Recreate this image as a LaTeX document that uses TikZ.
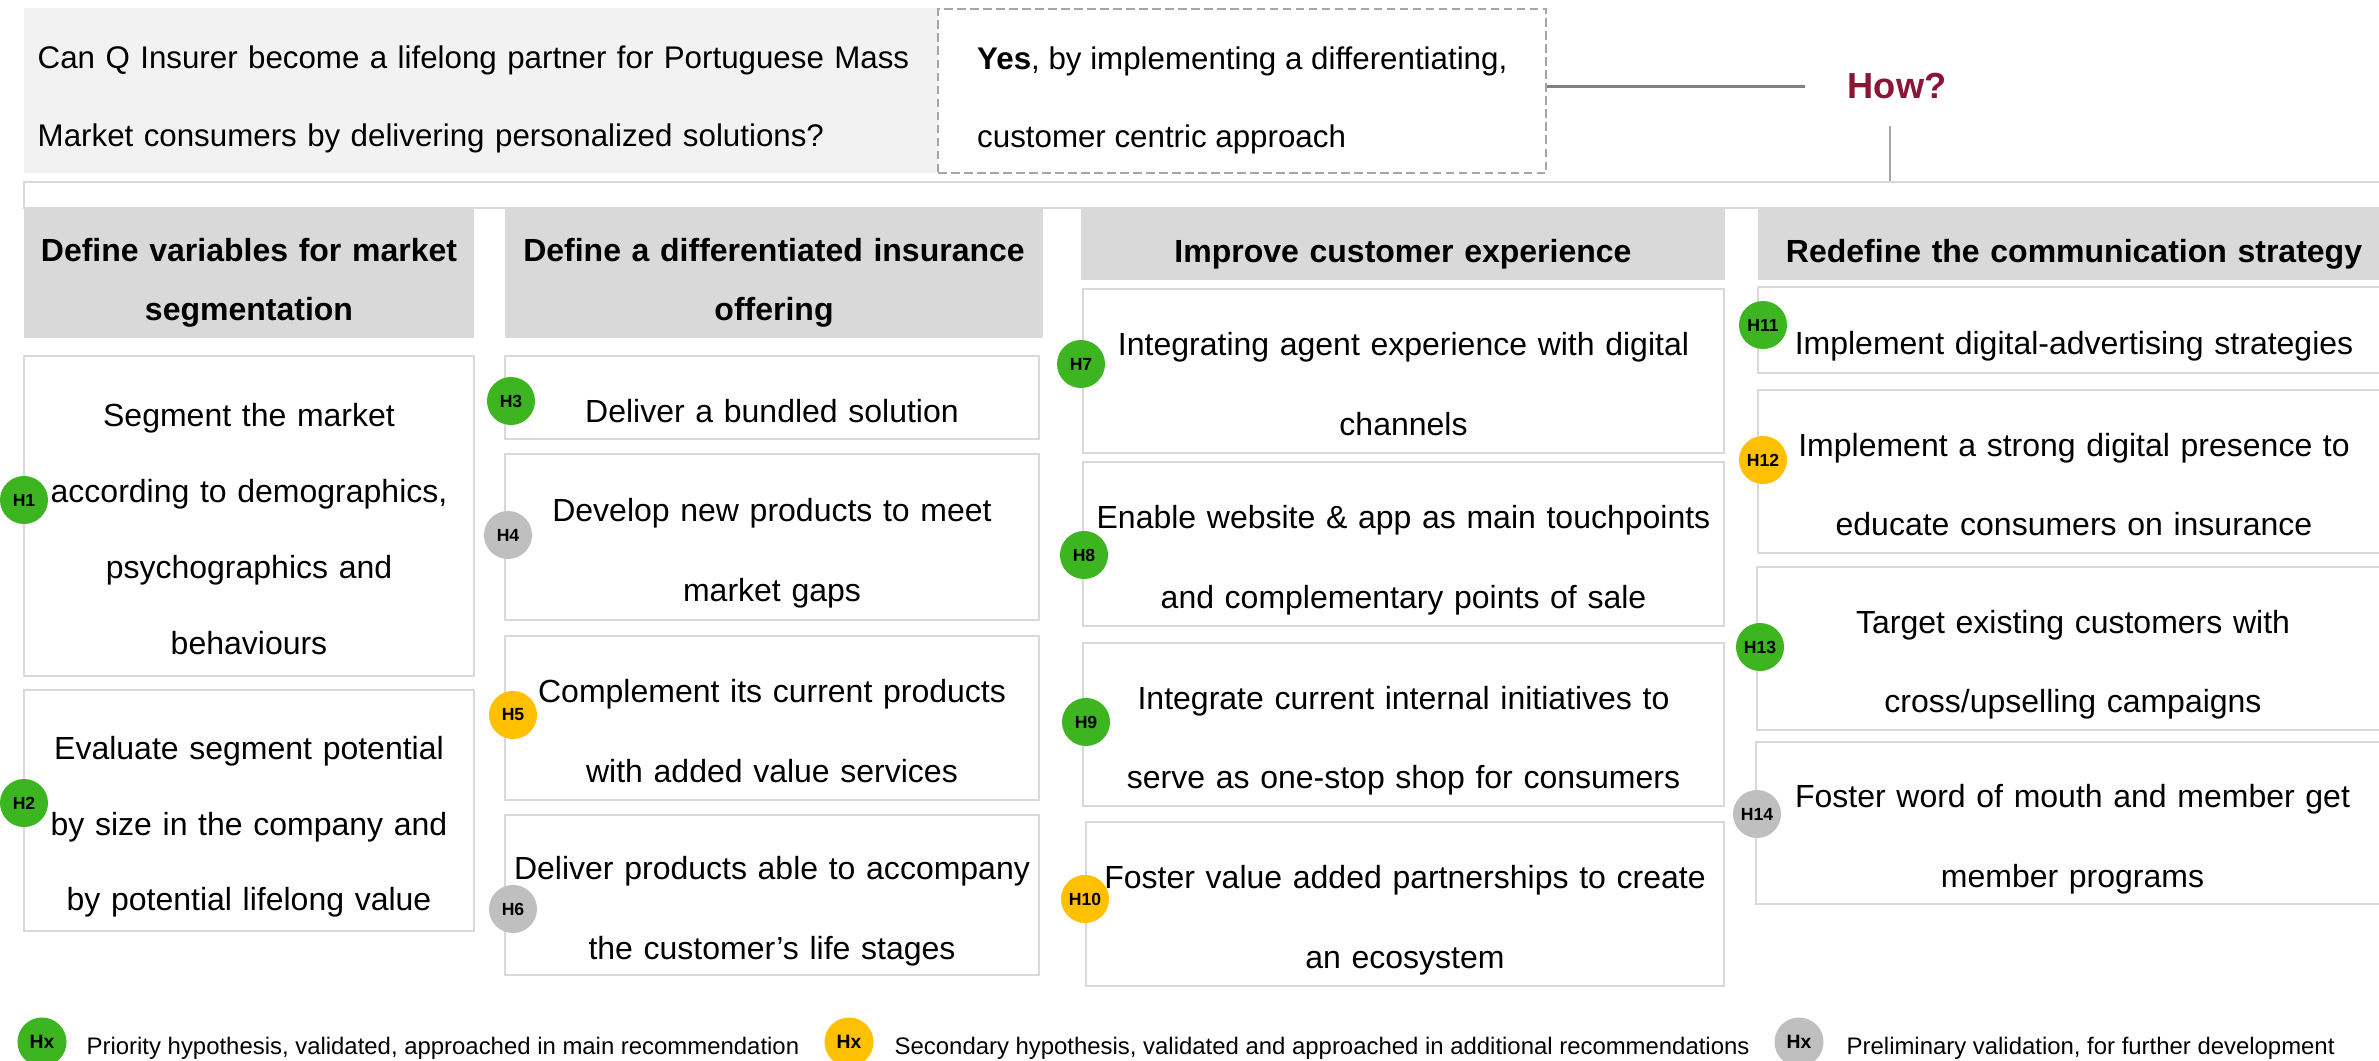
\documentclass[tikz,border=0pt]{standalone}
\usepackage{fontspec}
\setmainfont{Liberation Sans}
\usepackage{tikz}
\usepackage{xcolor}
\definecolor{prioritycolor}{HTML}{3CB521}
\definecolor{secondarycolor}{HTML}{FFC000}
\definecolor{preliminarycolor}{HTML}{BFBFBF}
\definecolor{headercolor}{HTML}{D9D9D9}
\definecolor{questioncolor}{HTML}{F2F2F2}
\definecolor{howcolor}{HTML}{8C1436}
\colorlet{framecolor}{headercolor}
\colorlet{dashcolor}{black!35}
\colorlet{linkcolor}{black!50}
% struts: same height/depth for every line of text
\newcommand{\hypstrut}{\rule[-0.135cm]{0pt}{0.76cm}}
\newcommand{\titlestrut}{\rule[-0.1cm]{0pt}{0.55cm}}
\newcommand{\qstrut}{\rule[-0.215cm]{0pt}{0.78cm}}
\tikzstyle{qbox} = [
    fill=questioncolor,
    anchor=north west,
    inner ysep=0pt,
    align=left,
    font=\fontsize{8.9}{22.2}\selectfont
    ]
\tikzstyle{abox} = [
    qbox,
    fill=white,
    draw=dashcolor,
    line width=0.6pt,
    dash pattern=on 2.4pt off 1.3pt
    ]
\tikzstyle{coltitle} = [
    fill=headercolor,
    inner sep=0pt,
    align=center,
    font=\fontsize{9.1}{15.6}\selectfont\bfseries,
    execute at begin node=\titlestrut,
    execute at end node=\titlestrut
    ]
\tikzstyle{hypbox} = [
    draw=framecolor,
    fill=white,
    line width=0.6pt,
    inner sep=0pt,
    align=center,
    font=\fontsize{9.1}{21.6}\selectfont,
    execute at begin node=\hypstrut,
    execute at end node=\hypstrut
    ]
\tikzstyle{colA} = [text width=4.3cm, minimum width=4.5cm]
\tikzstyle{colB} = [text width=5.2cm, minimum width=5.34cm]
\tikzstyle{colC} = [text width=6.2cm, minimum width=6.41cm]
\tikzstyle{colD} = [text width=6.1cm, minimum width=6.32cm]
\tikzstyle{badge} = [
    circle,
    inner sep=0pt,
    minimum size=0.48cm,
    font=\fontsize{5}{6}\selectfont\bfseries
    ]
\tikzstyle{legendbadge} = [
    badge,
    minimum size=0.49cm,
    font=\fontsize{5.5}{6}\selectfont\bfseries
    ]
\tikzstyle{legendtext} = [
    anchor=base west,
    inner sep=0pt,
    font=\fontsize{6.8}{8}\selectfont
    ]
\tikzstyle{link} = [draw=linkcolor, line width=0.6pt]

\begin{document}
\begin{tikzpicture}[x=0.01cm, y=-0.01cm]
\useasboundingbox (0,0) rectangle (2379,1061);
\clip (0,0) rectangle (2379,1061);

% question and answer (the answer box covers the right end of the question)
\node[qbox, text width=9.0cm, inner xsep=0.14cm, minimum height=1.65cm] (question) at (23,7)
    {\qstrut Can Q Insurer become a lifelong partner for Portuguese Mass\\
     Market consumers by delivering personalized solutions?\qstrut};
\node[abox, inner xsep=0pt, minimum width=6.08cm, minimum height=1.64cm] (answer) at (937,8)
    {\qstrut\textbf{Yes}, by implementing a differentiating,\\
     customer centric approach\qstrut};
\node[text=howcolor, font=\fontsize{10.3}{12}\selectfont\bfseries,
      inner xsep=0.42cm, inner ysep=0.26cm] (how) at (1897,86.5) {How?};

% bar under the question
\node[draw=framecolor, fill=white, line width=0.6pt, anchor=north west,
      minimum width=23.8cm, minimum height=0.26cm, inner sep=0pt] (bar) at (23,181) {};

\draw[link] (answer.east |- how.west) -- (how.west);
\draw[link, draw=dashcolor] ([xshift=-0.07cm]how.south) -- ([xshift=-0.07cm]how.south |- bar.north);

% column titles
\node[coltitle, colA, minimum height=1.29cm] (title1) at (249,273.5)
    {Define variables for market\\ segmentation};
\node[coltitle, text width=5.2cm, minimum width=5.38cm, minimum height=1.29cm] (title2) at (774,273.5)
    {Define a differentiated insurance\\ offering};
\node[coltitle, text width=6.2cm, minimum width=6.44cm, minimum height=0.71cm] (title3) at (1403,244.5)
    {Improve customer experience};
\node[coltitle, colD, minimum height=0.71cm] (title4) at (2074,244.5)
    {Redefine the communication strategy};

% hypotheses
\node[hypbox, colA, minimum height=3.2cm] (h1) at (249,516)
    {Segment the market\\ according to demographics,\\ psychographics and\\ behaviours};
\node[hypbox, colA, minimum height=2.41cm] (h2) at (249,810.5)
    {Evaluate segment potential\\ by size in the company and\\ by potential lifelong value};

\node[hypbox, colB, minimum height=0.83cm] (h3) at (772,397.5)
    {Deliver a bundled solution};
\node[hypbox, colB, minimum height=1.66cm] (h4) at (772,537)
    {Develop new products to meet\\ market gaps};
\node[hypbox, colB, minimum height=1.64cm] (h5) at (772,718)
    {Complement its current products\\ with added value services};
\node[hypbox, colB, minimum height=1.6cm] (h6) at (772,895)
    {Deliver products able to accompany\\ the customer’s life stages};

\node[hypbox, colC, minimum height=1.64cm] (h7) at (1403.5,371)
    {Integrating agent experience with digital\\ channels};
\node[hypbox, colC, minimum height=1.64cm] (h8) at (1403.5,544)
    {Enable website \& app as main touchpoints\\ and complementary points of sale};
\node[hypbox, colC, minimum height=1.63cm] (h9) at (1403.5,724.5)
    {Integrate current internal initiatives to\\ serve as one-stop shop for consumers};
\node[hypbox, colC, minimum width=6.38cm, minimum height=1.64cm] (h10) at (1405,904)
    {Foster value added partnerships to create\\ an ecosystem};

\node[hypbox, colD, minimum height=0.86cm] (h11) at (2074,330)
    {Implement digital-advertising strategies};
\node[hypbox, colD, minimum height=1.63cm] (h12) at (2074,471.5)
    {Implement a strong digital presence to\\ educate consumers on insurance};
\node[hypbox, colD, minimum height=1.63cm] (h13) at (2073,648.5)
    {Target existing customers with\\ cross/upselling campaigns};
\node[hypbox, colD, minimum height=1.62cm] (h14) at (2072.5,823)
    {Foster word of mouth and member get\\ member programs};

% badges
\node[badge, fill=prioritycolor] (b1) at (24,500) {H1};
\node[badge, fill=prioritycolor] (b2) at (24,803) {H2};
\node[badge, fill=prioritycolor] (b3) at (511,401) {H3};
\node[badge, fill=preliminarycolor] (b4) at (508,535) {H4};
\node[badge, fill=secondarycolor] (b5) at (513,715) {H5};
\node[badge, fill=preliminarycolor] (b6) at (513,909) {H6};
\node[badge, fill=prioritycolor] (b7) at (1081,364) {H7};
\node[badge, fill=prioritycolor] (b8) at (1084,555) {H8};
\node[badge, fill=prioritycolor] (b9) at (1086,722) {H9};
\node[badge, fill=secondarycolor] (b10) at (1085,899) {H10};
\node[badge, fill=prioritycolor] (b11) at (1763,325) {H11};
\node[badge, fill=secondarycolor] (b12) at (1763,460) {H12};
\node[badge, fill=prioritycolor] (b13) at (1760,647) {H13};
\node[badge, fill=preliminarycolor] (b14) at (1757,814) {H14};

% legend
\node[legendbadge, fill=prioritycolor] (leg1) at (42,1042) {Hx};
\node[legendtext] (leg1text) at (86,1054) {Priority hypothesis, validated, approached in main recommendation};
\node[legendbadge, fill=secondarycolor] (leg2) at (849,1042) {Hx};
\node[legendtext] (leg2text) at (894,1054) {Secondary hypothesis, validated and approached in additional recommendations};
\node[legendbadge, fill=preliminarycolor] (leg3) at (1799,1042) {Hx};
\node[legendtext] (leg3text) at (1846,1054) {Preliminary validation, for further development};
\end{tikzpicture}
\end{document}
